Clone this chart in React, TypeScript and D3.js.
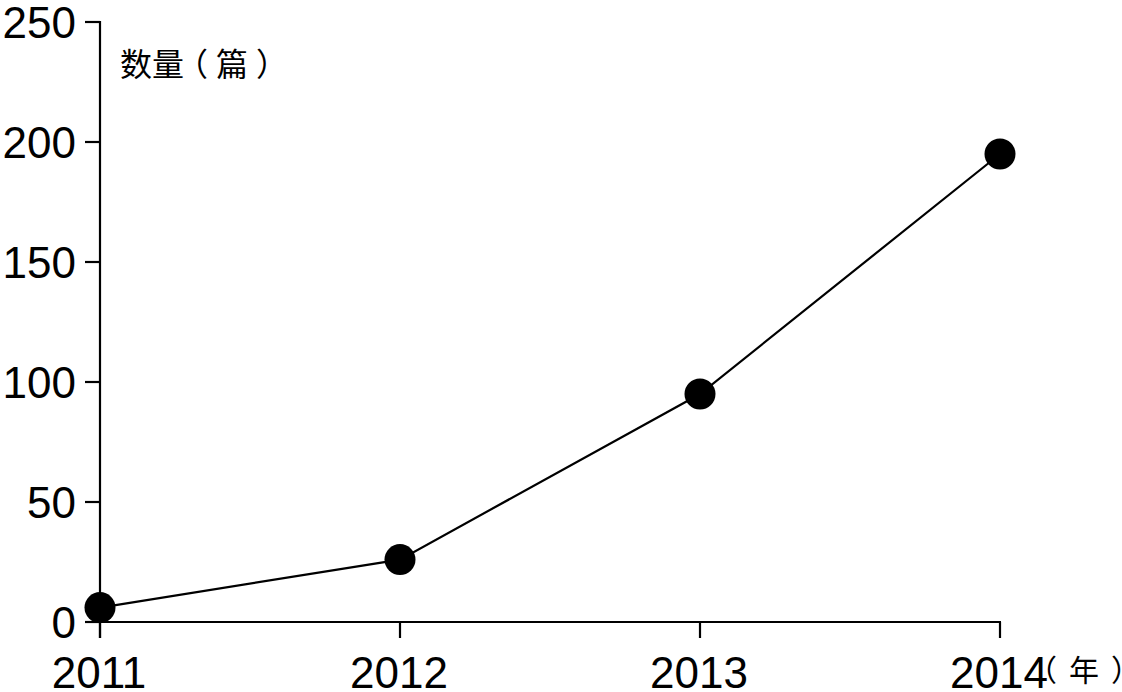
import React from "react";
import * as d3 from "d3";

const years = ["2011", "2012", "2013", "2014"];
const counts = [6, 26, 95, 195];
const yTicks = [0, 50, 100, 150, 200, 250];
const yTitleChars = ["数", "量", "（", "篇", "）"];
const xTitleChars = ["（", "年", "）"];

const W = 1122;
const H = 692;

export default function App() {
  const x = d3.scalePoint<string>().domain(years).range([100, 1000]);
  const y = d3.scaleLinear().domain([0, 250]).range([622, 22]);
  const pts = years.map((yr, i) => [x(yr) as number, y(counts[i])] as [number, number]);
  const line = d3.line()(pts) || "";
  const font = "'Liberation Sans', Arial, sans-serif";
  const cjk = "'Noto Sans CJK SC', sans-serif";
  const yTitleX = [120, 152, 176, 216, 256];
  const xTitleX = [1027, 1069, 1111];
  return (
    <div style={{ position: "absolute", left: 0, top: 0 }}>
      <svg width={W} height={H} style={{ display: "block", background: "#fff" }}>
        {/* y axis */}
        <line x1={100} x2={100} y1={y(250) - 1} y2={y(0) + 16} stroke="#000" strokeWidth={2.2} />
        {yTicks.map((t) => (
          <g key={t}>
            <line x1={85} x2={100} y1={y(t)} y2={y(t)} stroke="#000" strokeWidth={2.2} />
            <text x={76} y={y(t)} dy="0.36em" textAnchor="end" fontFamily={font} fontSize={44} fill="#000">
              {t}
            </text>
          </g>
        ))}
        {/* x axis */}
        <line x1={85} x2={(x("2014") as number) + 1} y1={y(0)} y2={y(0)} stroke="#000" strokeWidth={2.2} />
        {years.map((yr) => (
          <g key={yr}>
            <line x1={x(yr) as number} x2={x(yr) as number} y1={y(0)} y2={y(0) + 16} stroke="#000" strokeWidth={2.2} />
            <text x={(x(yr) as number) - 1} y={688} textAnchor="middle" fontFamily={font} fontSize={44} fill="#000">
              {yr}
            </text>
          </g>
        ))}
        <path d={line} fill="none" stroke="#000" strokeWidth={2.2} />
        {pts.map((p, i) => (
          <circle key={i} cx={p[0]} cy={p[1]} r={15.5} fill="#000" />
        ))}
        <text y={76} fontFamily={cjk} fontSize={32} fill="#000">
          {yTitleChars.map((c, i) => (
            <tspan key={i} x={yTitleX[i]}>{c}</tspan>
          ))}
        </text>
        <text y={681} fontFamily={cjk} fontSize={30} fill="#000">
          {xTitleChars.map((c, i) => (
            <tspan key={i} x={xTitleX[i]}>{c}</tspan>
          ))}
        </text>
      </svg>
    </div>
  );
}
